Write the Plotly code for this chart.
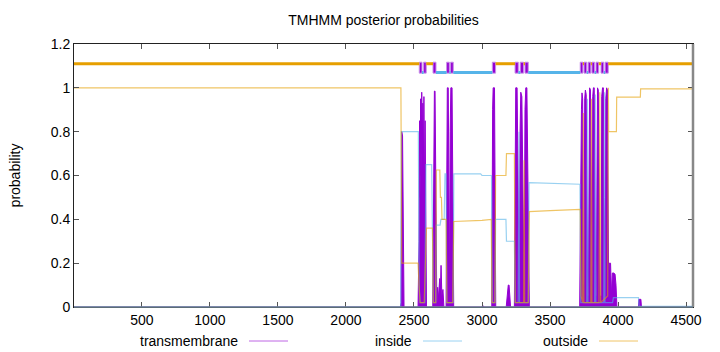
import plotly.graph_objects as go

# ---------------- data ----------------
seq_len = 4551

# transmembrane posterior probability (vertices of the spiky profile)
tm_pos = [1, 2400, 2405, 2410, 2416, 2422, 2427,
          2530, 2537, 2541, 2545, 2549, 2553, 2557, 2561, 2565, 2569, 2573, 2578, 2582, 2588, 2592,
          2638, 2645, 2650, 2655, 2660, 2665,
          2668, 2674, 2680, 2689, 2694, 2699, 2705, 2713, 2720,
          2736, 2741, 2745, 2752, 2758, 2762, 2766, 2771, 2780, 2786, 2792,
          3000, 3005, 3012,
          3072, 3078, 3082, 3092, 3097, 3101,
          3178, 3186, 3193, 3199, 3206, 3210,
          3238, 3244, 3248, 3258, 3264, 3270, 3274, 3280, 3285, 3293, 3300, 3306,
          3310, 3316, 3322, 3330, 3337, 3343, 3348,
          3718, 3723, 3727, 3731, 3735, 3740, 3745,
          3750, 3755, 3760, 3766, 3772, 3777,
          3782, 3786, 3791, 3797, 3802, 3806,
          3810, 3814, 3819, 3825, 3830, 3835,
          3840, 3844, 3849, 3855, 3861, 3868,
          3876, 3880, 3886, 3892, 3897, 3902,
          3906, 3910, 3916, 3922, 3927, 3931,
          3935, 3945, 3952, 3958, 3968, 3978, 3985, 3992,
          4150, 4153, 4168, 4172, 4551]
tm_prob = [0.0, 0.0, 0.02, 0.80, 0.78, 0.30, 0.0,
           0.0, 0.30, 0.85, 0.50, 0.95, 0.60, 0.98, 0.70, 0.93, 0.60, 0.96, 0.50, 0.85, 0.20, 0.0,
           0.0, 0.60, 0.985, 0.985, 0.50, 0.0,
           0.0, 0.09, 0.04, 0.13, 0.06, 0.19, 0.05, 0.08, 0.0,
           0.0, 0.70, 1.0, 1.0, 0.60, 0.05, 0.80, 1.0, 1.0, 0.50, 0.0,
           0.0, 0.008, 0.0,
           0.0, 0.90, 1.0, 1.0, 0.50, 0.0,
           0.0, 0.05, 0.10, 0.10, 0.03, 0.0,
           0.0, 0.95, 1.0, 1.0, 0.60, 0.05, 0.05, 0.80, 0.98, 0.96, 0.50, 0.05,
           0.05, 0.90, 1.0, 1.0, 0.60, 0.05, 0.0,
           0.0, 0.557, 0.557, 0.90, 0.977, 0.95, 0.10,
           0.10, 0.95, 0.99, 0.97, 0.40, 0.05,
           0.05, 0.97, 1.0, 0.99, 0.50, 0.05,
           0.05, 0.96, 1.0, 1.0, 0.40, 0.05,
           0.05, 0.97, 1.0, 0.99, 0.40, 0.05,
           0.05, 0.96, 1.0, 1.0, 0.50, 0.05,
           0.05, 0.95, 1.0, 0.99, 0.50, 0.10,
           0.20, 0.20, 0.05, 0.155, 0.155, 0.15, 0.10, 0.0,
           0.0, 0.035, 0.035, 0.0, 0.0]

# inside posterior probability
in_pos = [1, 2403, 2407, 2532, 2538, 2545, 2580, 2588, 2630, 2637, 2642, 2660, 2664, 2692,
          2698, 2722, 2728, 2736, 2741, 2788, 2793, 2990, 3000, 3070, 3076, 3096, 3100,
          3176, 3180, 3238, 3244, 3266, 3272, 3276, 3340, 3346, 3500, 3720, 3726,
          3770, 3775, 3779, 3828, 3833, 3837, 3895, 3900, 3904, 3960, 3966, 4150, 4155, 4551]
in_prob = [0.0, 0.0, 0.80, 0.80, 0.10, 0.02, 0.02, 0.65, 0.65, 0.35, 0.02, 0.02, 0.374, 0.374,
           0.40, 0.40, 0.607, 0.607, 0.02, 0.02, 0.607, 0.607, 0.60, 0.60, 0.02, 0.02, 0.40,
           0.40, 0.30, 0.30, 0.02, 0.02, 0.80, 0.02, 0.02, 0.567, 0.565, 0.56, 0.02,
           0.02, 0.95, 0.02, 0.02, 0.97, 0.02, 0.02, 0.98, 0.02, 0.02, 0.043, 0.043, 0.003, 0.003]

# outside posterior probability
out_pos = [1, 2404, 2410, 2530, 2537, 2545, 2575, 2585, 2592, 2636, 2642, 2660, 2664, 2690,
           2694, 2702, 2706, 2736, 2742, 2785, 2792, 3000, 3068, 3074, 3095, 3100, 3176, 3180,
           3238, 3244, 3302, 3306, 3310, 3314, 3340, 3348, 3500, 3722, 3728,
           3740, 3745, 3749, 3800, 3804, 3808, 3860, 3866, 3872, 3924, 3929, 3931,
           3988, 3990, 4164, 4166, 4551]
out_prob = [1.0, 1.0, 0.20, 0.20, 0.10, 0.02, 0.02, 0.20, 0.36, 0.36, 0.02, 0.02, 0.625, 0.625,
            0.50, 0.50, 0.40, 0.40, 0.02, 0.02, 0.39, 0.395, 0.40, 0.02, 0.02, 0.60, 0.60, 0.70,
            0.70, 0.02, 0.02, 0.02, 0.67, 0.02, 0.02, 0.435, 0.44, 0.445, 0.05,
            0.02, 0.885, 0.02, 0.02, 0.95, 0.02, 0.02, 0.98, 0.02, 0.05, 1.0, 0.80,
            0.80, 0.958, 0.958, 0.995, 0.995]

# predicted topology (start, end) segments
outside_segs = [(1, 2539), (2590, 2640), (3100, 3243), (3306, 3316), (3742, 3750),
                (3800, 3808), (3858, 3875), (3928, 4551)]
inside_segs = [(2559, 2571), (2662, 2740), (2760, 2769), (2789, 3076), (3267, 3281),
               (3340, 3722), (3770, 3780), (3828, 3838), (3895, 3905)]
tm_segs = [(2539, 2559), (2571, 2590), (2640, 2662), (2740, 2760), (2769, 2789),
           (3076, 3100), (3243, 3267), (3281, 3306), (3316, 3340), (3722, 3742),
           (3750, 3770), (3780, 3800), (3808, 3828), (3838, 3858), (3875, 3895), (3905, 3928)]

x_ticks = [500, 1000, 1500, 2000, 2500, 3000, 3500, 4000, 4500]
y_ticks = [0, 0.2, 0.4, 0.6, 0.8, 1.0, 1.2]
y_ticklabels = ["0", "0.2", "0.4", "0.6", "0.8", "1", "1.2"]
legend_labels = ["transmembrane", "inside", "outside"]

# ---------------- styling ----------------
PURPLE = "#9400D3"
BLUE = "#56B4E9"
ORANGE = "#E69F00"
FONT = "Liberation Sans"

fig = go.Figure()

# transmembrane profile (impulse-like filled spikes)
fig.add_trace(go.Scatter(x=tm_pos, y=tm_prob, mode="lines", fill="tozeroy",
                         line=dict(color=PURPLE, width=1), fillcolor=PURPLE,
                         opacity=0.95, showlegend=False, hoverinfo="skip"))
# inside profile
fig.add_trace(go.Scatter(x=in_pos, y=in_prob, mode="lines",
                         line=dict(color=BLUE, width=1.2), opacity=0.6,
                         showlegend=False, hoverinfo="skip"))
# outside profile
fig.add_trace(go.Scatter(x=out_pos, y=out_prob, mode="lines",
                         line=dict(color=ORANGE, width=1.2), opacity=0.6,
                         showlegend=False, hoverinfo="skip"))


def seg_xy(segs, level):
    xs, ys = [], []
    for a, b in segs:
        xs += [a, b, None]
        ys += [level, level, None]
    return xs, ys


ox, oy = seg_xy(outside_segs, 1.11)
fig.add_trace(go.Scatter(x=ox, y=oy, mode="lines", line=dict(color=ORANGE, width=3),
                         showlegend=False, hoverinfo="skip"))
ix, iy = seg_xy(inside_segs, 1.07)
fig.add_trace(go.Scatter(x=ix, y=iy, mode="lines", line=dict(color=BLUE, width=3),
                         showlegend=False, hoverinfo="skip"))
fig.add_trace(go.Bar(x=[(a + b) / 2 for a, b in tm_segs],
                     width=[b - a for a, b in tm_segs],
                     y=[0.05] * len(tm_segs), base=[1.067] * len(tm_segs),
                     marker=dict(color=PURPLE, line=dict(color="#c890e8", width=1)),
                     showlegend=False, hoverinfo="skip"))

# legend drawn gnuplot-style: text then sample line
leg_colors = ["rgba(148,0,211,0.6)", "rgba(86,180,233,0.6)", "rgba(230,159,0,0.6)"]
text_right_px = [240, 414, 590]
L, R, T, B = 74, 27, 44, 45
W = 720 - L - R
H = 352 - T - B


def px2paper(px):
    return (px - L) / W


leg_y = (352 - B - 341) / H
for lab, col, xr in zip(legend_labels, leg_colors, text_right_px):
    fig.add_annotation(x=px2paper(xr), y=leg_y, xref="paper", yref="paper",
                       text=lab, showarrow=False, xanchor="right", yanchor="middle",
                       font=dict(family=FONT, size=14, color="#000000"))
    fig.add_shape(type="line", xref="paper", yref="paper",
                  x0=px2paper(xr + 9), x1=px2paper(xr + 48), y0=leg_y, y1=leg_y,
                  line=dict(color=col, width=1))

# frame
fig.add_shape(type="line", xref="paper", yref="paper", x0=1, x1=1, y0=0, y1=1,
              line=dict(color="#888888", width=2.5), layer="above")
fig.add_shape(type="line", xref="paper", yref="paper", x0=0, x1=1, y0=0, y1=0,
              line=dict(color="#6f8796", width=1.5), layer="above")

fig.update_layout(
    width=720, height=352,
    margin=dict(l=L, r=R, t=T, b=B),
    paper_bgcolor="white", plot_bgcolor="white",
    barmode="overlay",
    title=dict(text="TMHMM posterior probabilities", x=(L + W / 2) / 720, xanchor="center",
               y=1 - 20 / 352, yanchor="middle",
               font=dict(family=FONT, size=14, color="#000000")),
    font=dict(family=FONT, size=14, color="#000000"),
    showlegend=False,
)
fig.update_xaxes(range=[1, seq_len], tickvals=x_ticks, ticks="inside", ticklen=5,
                 tickcolor="#555555", showline=True, linecolor="#222222", linewidth=1,
                 mirror="ticks", showgrid=False, zeroline=False,
                 tickfont=dict(family=FONT, size=14))
fig.update_yaxes(range=[0, 1.2], tickvals=y_ticks, ticktext=y_ticklabels, ticks="inside",
                 ticklen=5, tickcolor="#555555", showline=True, linecolor="#222222",
                 linewidth=1, mirror="ticks", showgrid=False, zeroline=False,
                 title=dict(text="probability", standoff=26, font=dict(family=FONT, size=14)),
                 tickfont=dict(family=FONT, size=14))

fig.write_html("out.html")
